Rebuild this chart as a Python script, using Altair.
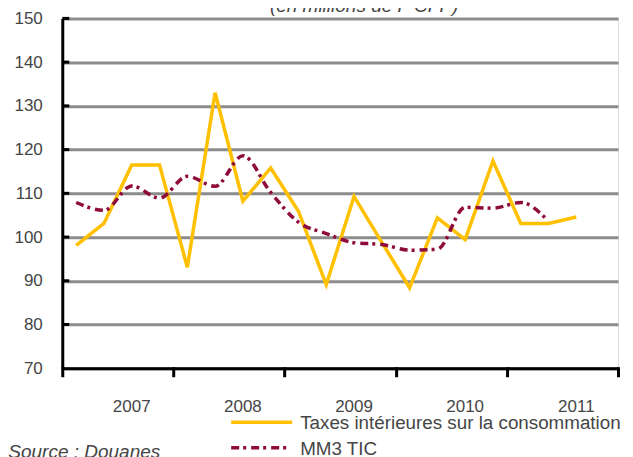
import altair as alt
import pandas as pd

# Quarterly series (index 0 = first quarter shown)
taxes = [98.1, 103.1, 116.5, 116.5, 93.1, 133.0, 108.2, 115.8, 105.9, 89.1,
         109.3, 98.8, 88.4, 104.4, 99.4, 117.4, 103.1, 103.1, 104.6]
mm3 = [107.9, 106.1, 111.7, 108.9, 113.9, 111.6, 118.6, 110.2, 103.4, 100.8,
       98.7, 98.3, 97.0, 97.2, 106.8, 106.6, 107.9, 103.6]
years = ["2007", "2008", "2009", "2010", "2011"]
y_ticks = [70, 80, 90, 100, 110, 120, 130, 140, 150]
series_names = ["Taxes intérieures sur la consommation", "MM3 TIC"]
title_text = "(en millions de F CFP)"
source_text = "Source : Douanes"

YELLOW = "#FFC000"
MAROON = "#8E0B3C"
GRID = "#8C8C8C"
TXT = "#454545"
FONT = "Liberation Sans, Arial, sans-serif"

W, H = 556, 350

df_t = pd.DataFrame({"q": [i + 0.5 for i in range(len(taxes))], "v": taxes})
df_m = pd.DataFrame({"q": [i + 0.5 for i in range(len(mm3))], "v": mm3})
df_y = pd.DataFrame({"pos": [4 * k + 2.5 for k in range(len(years))], "year": years})
df_ticks = pd.DataFrame({"t": y_ticks[1:]})

xscale = alt.Scale(domain=[0, 20], nice=False, zero=False)
yscale = alt.Scale(domain=[70, 150], nice=False, zero=False)

xaxis = alt.Axis(values=[0, 4, 8, 12, 16, 20], labels=False, title=None, grid=False,
                 tickSize=7, tickWidth=3, tickColor="black", domainColor="black",
                 domainWidth=3, tickCap="square")
yaxis = alt.Axis(values=y_ticks, title=None, ticks=False, grid=True, gridColor=GRID,
                 gridWidth=3, domainColor="black", domainWidth=3, labelPadding=20,
                 labelFontSize=17, labelColor=TXT, labelFont=FONT)

base_t = alt.Chart(df_t).mark_line(color=YELLOW, strokeWidth=3.5).encode(
    x=alt.X("q:Q", scale=xscale, axis=xaxis),
    y=alt.Y("v:Q", scale=yscale, axis=yaxis),
)
base_m = alt.Chart(df_m).mark_line(color=MAROON, strokeWidth=3.5, strokeDash=[8, 4, 3, 5],
                                   interpolate="monotone").encode(
    x=alt.X("q:Q", scale=xscale),
    y=alt.Y("v:Q", scale=yscale),
)

ytick_marks = alt.Chart(df_ticks).mark_rule(color="black", strokeWidth=3).encode(
    y=alt.Y("t:Q", scale=yscale),
    x=alt.value(0),
    x2=alt.value(7),
)

year_labels = alt.Chart(df_y).mark_text(fontSize=17, color=TXT, font=FONT,
                                        baseline="middle", align="center").encode(
    x=alt.X("pos:Q", scale=xscale),
    y=alt.value(389),
    text="year:N",
)

leg1_sym = alt.Chart(pd.DataFrame({"s": [series_names[0]]})).mark_rule(
    color=YELLOW, strokeWidth=3.5).encode(x=alt.value(169), x2=alt.value(230), y=alt.value(404))
leg2_sym = alt.Chart(pd.DataFrame({"s": [series_names[1]]})).mark_rule(
    color=MAROON, strokeWidth=3.5, strokeDash=[8, 4, 3, 5]).encode(
    x=alt.value(169), x2=alt.value(227), y=alt.value(429.5))
leg1_txt = alt.Chart(pd.DataFrame({"s": [series_names[0]]})).mark_text(
    fontSize=18.8, color=TXT, font=FONT, align="left", baseline="middle").encode(
    x=alt.value(238), y=alt.value(404.5), text="s:N")
leg2_txt = alt.Chart(pd.DataFrame({"s": [series_names[1]]})).mark_text(
    fontSize=18.8, color=TXT, font=FONT, align="left", baseline="middle").encode(
    x=alt.value(238), y=alt.value(430.5), text="s:N")

title_mark = alt.Chart(pd.DataFrame({"s": [title_text]})).mark_text(
    fontSize=19, color=TXT, font=FONT, fontStyle="italic", align="center",
    baseline="alphabetic").encode(x=alt.value(302), y=alt.value(-6), text="s:N")
source_mark = alt.Chart(pd.DataFrame({"s": [source_text]})).mark_text(
    fontSize=19, color=TXT, font=FONT, fontStyle="italic", align="left",
    baseline="alphabetic").encode(x=alt.value(-54), y=alt.value(439.5), text="s:N")

chart = alt.layer(
    base_t, base_m, ytick_marks, year_labels,
    leg1_sym, leg2_sym, leg1_txt, leg2_txt, title_mark, source_mark,
).properties(
    width=W, height=H,
    autosize=alt.AutoSizeParams(type="none"),
    padding={"left": 54.3, "top": 10.3, "right": 7, "bottom": 100},
).configure_view(stroke=None).configure(background="white")

chart.save("out.html", embed_options={"renderer": "svg", "actions": False})
